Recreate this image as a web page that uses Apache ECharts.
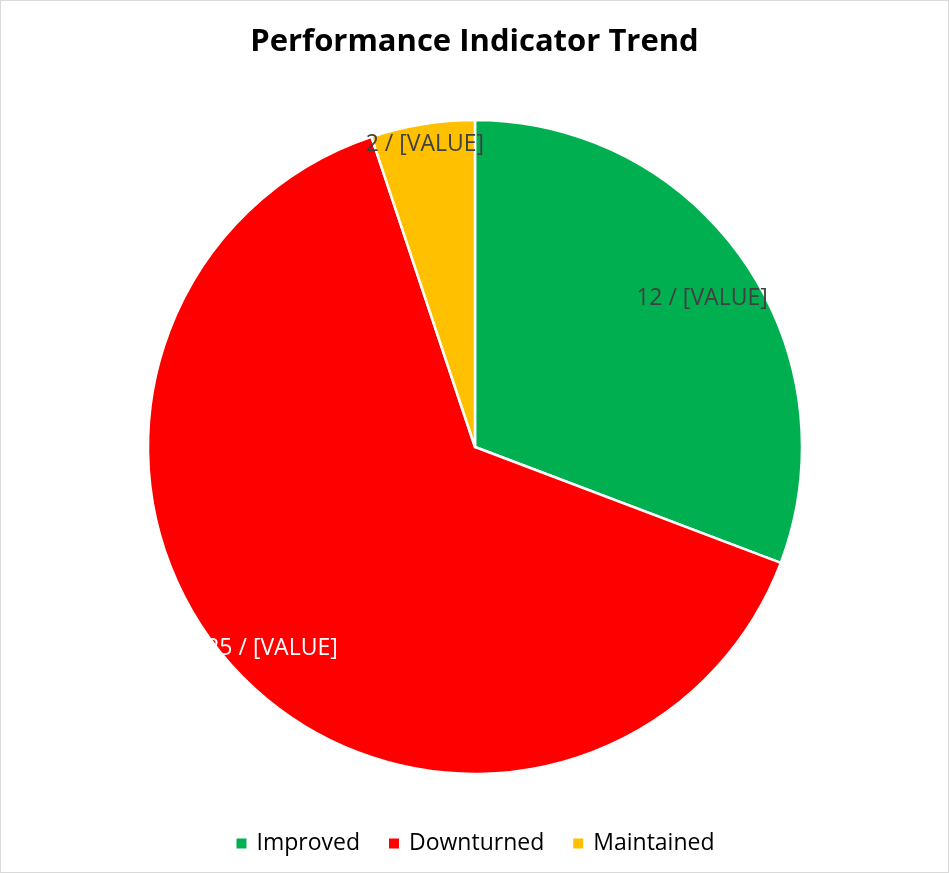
<!DOCTYPE html>
<html>
<head>
<meta charset="utf-8">
<script src="https://cdn.jsdelivr.net/npm/echarts@6/dist/echarts.min.js"></script>
<style>
    html, body { margin: 0; padding: 0; background: #fff; }
    #pie { width: 947px; height: 871px; border: 1px solid #d9d9d9; }
</style>
</head>
<body>
<div id="pie"></div>
<script>
// 数据
var categories = ['Improved', 'Downturned', 'Maintained'];
var values = [12, 25, 2];
var labelTexts = ['[VALUE]', '[VALUE]', '[VALUE]'];

// 样式
var colors = ['#00b050', '#ff0000', '#ffc000'];
var labelColors = ['#404040', '#ffffff', '#404040'];
// 标签微调（Excel bestFit 的位置）
var labelOffsets = [[-15, 18], [9, -2], [-3, -12]];

var myChart = echarts.init(document.getElementById('pie'));

var pieData = [];
var labelData = [];
for (var i = 0; i < categories.length; i++) {
    pieData.push({ value: values[i], name: categories[i], itemStyle: { color: colors[i] } });
    labelData.push({
        value: values[i],
        name: categories[i],
        label: {
            color: labelColors[i],
            offset: labelOffsets[i],
            formatter: values[i] + ' / ' + labelTexts[i]
        }
    });
}

var option = {
    title: {
        text: 'Performance Indicator Trend',
        left: 'center',
        top: 21,
        textStyle: {
            fontFamily: 'Open Sans',
            fontWeight: 'bold',
            fontSize: 31,
            color: '#000'
        }
    },
    legend: {
        bottom: 12,
        left: 'center',
        icon: 'rect',
        itemWidth: 12,
        itemHeight: 12,
        itemGap: 27,
        data: categories,
        textStyle: {
            fontFamily: 'Open Sans',
            fontSize: 23,
            color: '#000',
            padding: [0, 0, 0, 4]
        }
    },
    series: [{
        type: 'pie',
        center: [474, 446],
        radius: 327,
        startAngle: 90,
        clockwise: true,
        label: { show: false },
        labelLine: { show: false },
        emphasis: { disabled: true },
        itemStyle: { borderColor: '#fff', borderWidth: 2.5 },
        data: pieData
    }, {
        // 标签环（透明）
        type: 'pie',
        center: [474, 446],
        radius: [255, 327],
        startAngle: 90,
        clockwise: true,
        silent: true,
        legendHoverLink: false,
        itemStyle: { color: 'rgba(0,0,0,0)', borderWidth: 0 },
        label: {
            show: true,
            position: 'inside',
            fontFamily: 'Open Sans',
            fontSize: 23
        },
        labelLine: { show: false },
        data: labelData
    }]
};

myChart.setOption(option);
</script>
</body>
</html>
